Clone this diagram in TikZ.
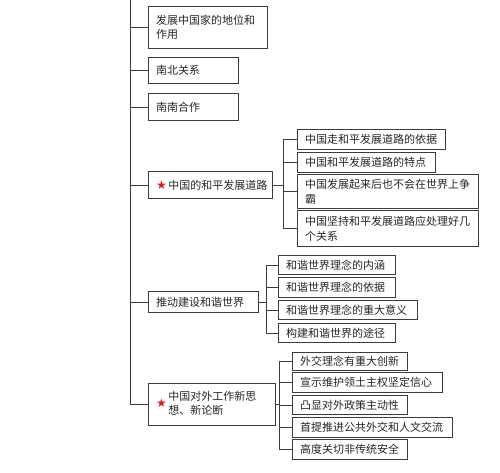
\documentclass[tikz,border=0pt]{standalone}
\usepackage{fontspec}
\setmainfont{Noto Sans CJK SC}
\newfontfamily\symfont{DejaVu Sans}
\definecolor{ln}{HTML}{3C3C3C}
\definecolor{tx}{HTML}{262626}
\definecolor{starred}{HTML}{D42020}
\tikzset{
  box/.style={draw=ln, line width=1.1pt, fill=white, text=tx, inner xsep=7.5pt, inner ysep=0pt,
    anchor=north west, align=left, font=\fontsize{11}{14.5}\selectfont},
  conn/.style={draw=ln, line width=1pt}
}
\newcommand\starsym{{\symfont\fontsize{12}{12}\selectfont\color{starred}★}}
\newcommand\mybox[6]{%
  \pgfmathsetmacro\bw{#4-#2}\pgfmathsetmacro\bh{#5-#3}\pgfmathsetmacro\tw{#4-#2-15}%
  \node[box, minimum width=\bw pt, minimum height=\bh pt, text width=\tw pt] (#1) at (#2,#3) {#6};}
\begin{document}
\begin{tikzpicture}[x=1pt,y=-1pt]
\useasboundingbox (0,0) rectangle (500,472);
% level 1
\mybox{n1}{148}{6}{267}{48}{发展中国家的地位和\\作用}
\mybox{n2}{148}{57}{238}{83}{南北关系}
\mybox{n3}{148}{93}{238}{120}{南南合作}
\mybox{n4}{148}{171}{272}{198}{\mbox{\starsym\hspace{1.5pt}中国的和平发展道路}}
\mybox{n5}{148}{291}{258}{312}{推动建设和谐世界}
\mybox{n6}{148}{383}{275}{425}{\mbox{\starsym\hspace{1.5pt}\begin{tabular}[c]{@{}l@{}}中国对外工作新思\\想、新论断\end{tabular}}}
% children of n4
\mybox{c41}{297}{129}{445}{149}{中国走和平发展道路的依据}
\mybox{c42}{297}{152}{435}{172}{中国和平发展道路的特点}
\mybox{c43}{297}{174}{478}{208}{中国发展起来后也不会在世界上争\\霸}
\mybox{c44}{297}{210}{478}{246}{中国坚持和平发展道路应处理好几\\个关系}
% children of n5
\mybox{c51}{278}{255}{395}{274}{和谐世界理念的内涵}
\mybox{c52}{278}{277}{395}{297}{和谐世界理念的依据}
\mybox{c53}{278}{300}{417}{319}{和谐世界理念的重大意义}
\mybox{c54}{278}{323}{395}{342}{构建和谐世界的途径}
% children of n6
\mybox{c61}{292}{352}{407}{370}{外交理念有重大创新}
\mybox{c62}{292}{372}{442}{392}{宣示维护领土主权坚定信心}
\mybox{c63}{292}{395}{407}{414}{凸显对外政策主动性}
\mybox{c64}{292}{417}{452}{437}{首提推进公共外交和人文交流}
\mybox{c65}{292}{439}{407}{459}{高度关切非传统安全}
% trunk
\coordinate (trunk) at (130,0);
\draw[conn] (trunk) -- (trunk |- n6.west);
\foreach \n in {n1,n2,n3,n4,n5,n6} \draw[conn] (trunk |- \n.west) -- (\n.west);
% brackets
\coordinate (b4) at (283,0);
\draw[conn] (n4.east) -- (n4.east -| b4);
\draw[conn] (b4 |- c41.west) -- (b4 |- c44.west);
\foreach \c in {c41,c42,c43,c44} \draw[conn] (b4 |- \c.west) -- (\c.west);
\coordinate (b5) at (266,0);
\draw[conn] (n5.east) -- (n5.east -| b5);
\draw[conn] (b5 |- c51.west) -- (b5 |- c54.west);
\foreach \c in {c51,c52,c53,c54} \draw[conn] (b5 |- \c.west) -- (\c.west);
\coordinate (b6) at (279,0);
\draw[conn] (n6.east) -- (n6.east -| b6);
\draw[conn] (b6 |- c61.west) -- (b6 |- c65.west);
\foreach \c in {c61,c62,c63,c64,c65} \draw[conn] (b6 |- \c.west) -- (\c.west);
\end{tikzpicture}
\end{document}
